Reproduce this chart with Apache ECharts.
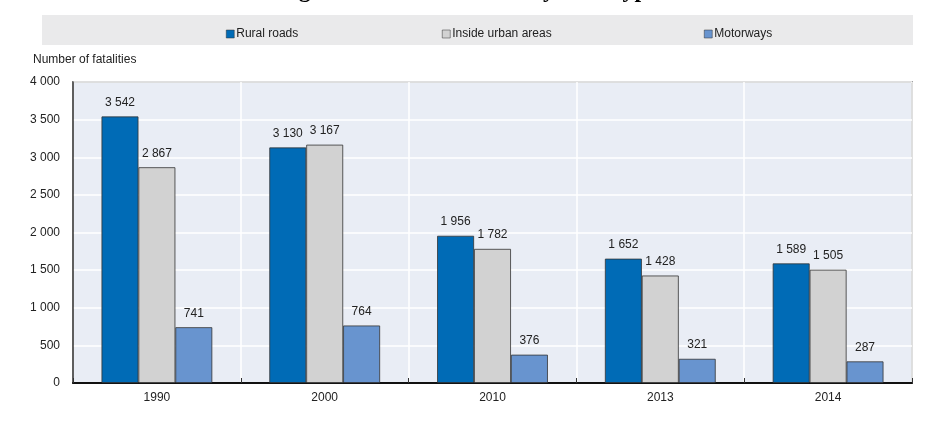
<!DOCTYPE html>
<html>
<head>
<meta charset="utf-8">
<script src="https://cdn.jsdelivr.net/npm/echarts@6/dist/echarts.min.js"></script>
<style>
html,body{margin:0;padding:0;background:#fff;}
#main{width:936px;height:423px;}
</style>
</head>
<body>
<div id="main"></div>
<script>
// data
var years = ['1990', '2000', '2010', '2013', '2014'];
var rural = [3542, 3130, 1956, 1652, 1589];
var urban = [2867, 3167, 1782, 1428, 1505];
var motorways = [741, 764, 376, 321, 287];
var yTicks = [0, 500, 1000, 1500, 2000, 2500, 3000, 3500, 4000];

var FONT = '"Liberation Sans Narrow", "Arial Narrow", "Liberation Sans", sans-serif';

function spaced(v) {
    return String(v).replace(/\B(?=(\d{3})+(?!\d))/g, ' ');
}

var myChart = echarts.init(document.getElementById('main'));

function barSeries(name, data, color) {
    return {
        name: name,
        type: 'bar',
        data: data,
        barGap: '0%',
        barCategoryGap: '34%',
        itemStyle: { color: color, borderColor: '#333', borderWidth: 0.8 },
        label: {
            show: true,
            position: 'top',
            distance: 8,
            color: '#222',
            fontFamily: FONT,
            fontSize: 12,
            formatter: function (p) { return spaced(p.value); }
        }
    };
}

function legendAt(name, left) {
    return {
        data: [name],
        left: left,
        top: 23,
        icon: 'rect',
        itemWidth: 8,
        itemHeight: 8,
        itemGap: 0,
        itemStyle: { borderWidth: 0.5, borderColor: '#333' },
        textStyle: { fontFamily: FONT, fontSize: 12, color: '#222', padding: [0, 0, 0, -3] }
    };
}

var option = {
    animation: false,
    graphic: [
        { type: 'rect', left: 42, top: 15, shape: { width: 871, height: 30 }, style: { fill: '#eaeaeb' }, z: -10 },
        { type: 'text', x: 468, y: 3, style: { text: 'Figure 4. Road fatalities by road type', font: 'bold 24px "Liberation Serif", serif', fill: '#000', textAlign: 'center', textVerticalAlign: 'bottom' } },
        { type: 'text', left: 33, top: 54, style: { text: 'Number of fatalities', font: '12px ' + FONT, fill: '#222' } }
    ],
    legend: [
        legendAt('Rural roads', 221),
        legendAt('Inside urban areas', 437),
        legendAt('Motorways', 699)
    ],
    grid: {
        left: 73, right: 24, top: 82, bottom: 40,
        show: true,
        backgroundColor: '#e9edf5',
        borderColor: '#555',
        borderWidth: 1.5
    },
    xAxis: {
        type: 'category',
        data: years,
        axisLine: { lineStyle: { color: '#111', width: 2 } },
        axisTick: { show: true, inside: true, length: 5, lineStyle: { color: '#333' } },
        splitLine: { show: true, lineStyle: { color: '#fff', width: 1.5 } },
        axisLabel: { fontFamily: FONT, fontSize: 12, color: '#222', margin: 9 }
    },
    yAxis: {
        type: 'value',
        min: yTicks[0],
        max: yTicks[yTicks.length - 1],
        interval: yTicks[1] - yTicks[0],
        axisLine: { show: true, lineStyle: { color: '#333', width: 1.5 } },
        axisTick: { show: false },
        splitLine: { lineStyle: { color: '#fff', width: 1.5 } },
        axisLabel: { fontFamily: FONT, fontSize: 12, color: '#222', margin: 13, formatter: spaced }
    },
    series: [
        barSeries('Rural roads', rural, '#006bb6'),
        barSeries('Inside urban areas', urban, '#d2d2d2'),
        barSeries('Motorways', motorways, '#6894cf')
    ]
};

myChart.setOption(option);
</script>
</body>
</html>
